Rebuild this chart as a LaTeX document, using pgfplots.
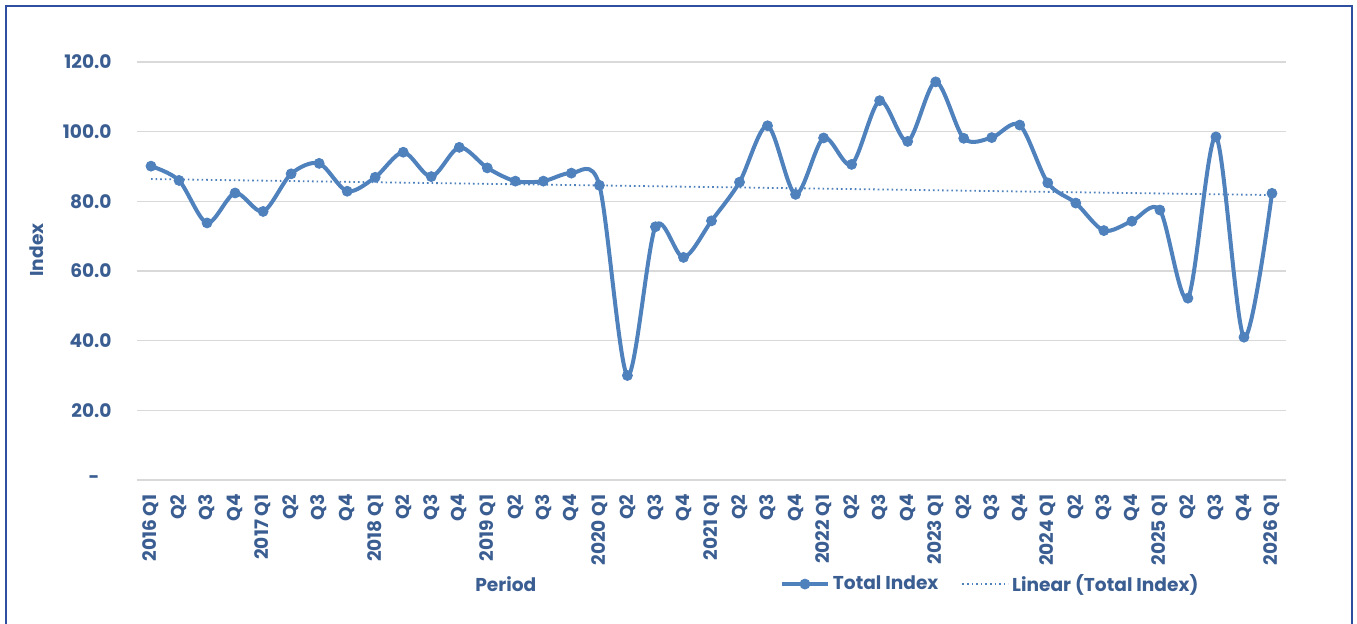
\documentclass[border=0pt]{standalone}
\usepackage{fontspec}
\setmainfont{Poppins}
\usepackage{pgfplots}
\pgfplotsset{compat=1.18}
\definecolor{txt}{HTML}{3B5E92}
\definecolor{ln}{HTML}{4F81BD}
\definecolor{grd}{HTML}{D9D9D9}
\definecolor{frm}{HTML}{2E4FA0}
\newcommand{\cfont}{\fontsize{9.3}{11}\selectfont\bfseries}
\begin{document}
\begin{tikzpicture}
\useasboundingbox (0,0) rectangle (678.5pt,311.5pt);
\draw[frm, line width=1pt] (3pt,-5pt) -- (3pt,308.5pt) -- (676pt,308.5pt) -- (676pt,-5pt);
\begin{axis}[
  at={(68.5pt,71.5pt)}, anchor=south west,
  scale only axis, width=574.5pt, height=209pt,
  xmin=-0.5, xmax=40.5, ymin=0, ymax=120,
  axis line style={draw=none},
  major tick length=0pt,
  ytick={0,20,...,120},
  yticklabels={-\hphantom{0},20.0,40.0,60.0,80.0,100.0,120.0},
  ymajorgrids, grid style={grd, line width=0.7pt},
  xtick={0,...,40},
  xticklabels={2016 Q1,Q2,Q3,Q4,2017 Q1,Q2,Q3,Q4,2018 Q1,Q2,Q3,Q4,2019 Q1,Q2,Q3,Q4,2020 Q1,Q2,Q3,Q4,2021 Q1,Q2,Q3,Q4,2022 Q1,Q2,Q3,Q4,2023 Q1,Q2,Q3,Q4,2024 Q1,Q2,Q3,Q4,2025 Q1,Q2,Q3,Q4,2026 Q1},
  tick label style={font=\cfont, text=txt, inner sep=0pt},
  yticklabel style={anchor=east, xshift=-12.5pt},
  xticklabel style={rotate=90, anchor=east},
  xticklabel shift=7pt,
  xlabel={Period}, ylabel={Index},
  label style={font=\cfont, text=txt},
  xlabel style={at={(axis description cs:0.321,-0.249)}, anchor=center},
  ylabel style={at={(axis description cs:-0.087,0.550)}, anchor=center, rotate=0},
  legend style={at={(axis description cs:0.554,-0.249)}, anchor=west, draw=none, fill=none,
    font=\cfont, text=txt, legend columns=2,
    /tikz/every even column/.append style={column sep=10pt},
    nodes={inner sep=1.5pt}},
  legend image code/.code={\draw[mark repeat=2,mark phase=2,#1] plot coordinates {(0pt,0pt) (11.5pt,0pt) (23pt,0pt)};},
  clip=false,
]
\addplot[ln, line width=2pt, smooth, mark=*, mark size=2.5pt, mark options={solid, fill=ln, draw=ln, line width=0.4pt}] coordinates {
(0,90.1) (1,86.0) (2,73.8) (3,82.4) (4,77.1) (5,87.9) (6,90.9) (7,82.9)
(8,86.9) (9,94.1) (10,87.1) (11,95.5) (12,89.6) (13,85.8) (14,85.8) (15,88.1)
(16,84.6) (17,30.0) (18,72.7) (19,63.9) (20,74.4) (21,85.5) (22,101.7) (23,82.0)
(24,98.2) (25,90.6) (26,108.9) (27,97.2) (28,114.3) (29,98.1) (30,98.3) (31,101.9)
(32,85.3) (33,79.5) (34,71.6) (35,74.3) (36,77.5) (37,52.2) (38,98.5) (39,41.0)
(40,82.3)};
\addlegendentry{Total Index}
\addplot[ln, line width=0.9pt, dash pattern=on 0.8pt off 1.5pt] coordinates {(0,86.4) (40,81.8)};
\addlegendentry{Linear (Total Index)}
\end{axis}
\end{tikzpicture}
\end{document}
